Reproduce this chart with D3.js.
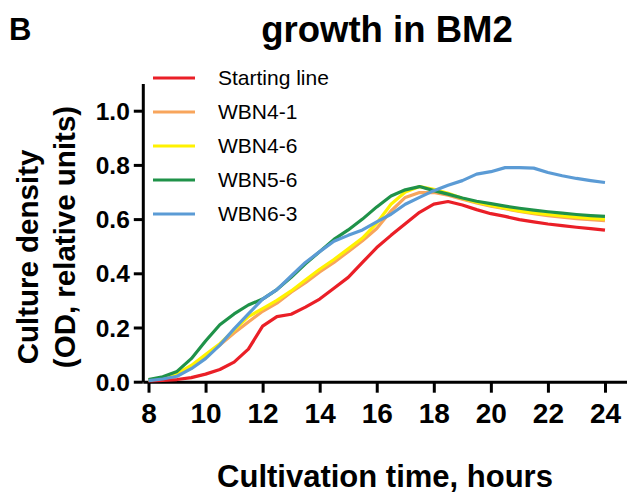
<!DOCTYPE html>
<html><head><meta charset="utf-8">
<script src="https://cdn.jsdelivr.net/npm/d3@7"></script>
<style>body{margin:0;background:#fff}svg{display:block}text{font-family:Arial,"Liberation Sans",sans-serif}</style>
</head><body><svg id="c" width="627" height="498"></svg>
<script>
const hours = [8,8.5,9,9.5,10,10.5,11,11.5,12,12.5,13,13.5,14,14.5,15,15.5,16,16.5,17,17.5,18,18.5,19,19.5,20,20.5,21,21.5,22,22.5,23,23.5,24];
const seriesNames = ["Starting line","WBN4-1","WBN4-6","WBN5-6","WBN6-3"];
const startingLine = [0.003,0.005,0.008,0.015,0.028,0.045,0.072,0.12,0.205,0.24,0.249,0.275,0.305,0.345,0.385,0.44,0.495,0.54,0.583,0.625,0.655,0.665,0.652,0.635,0.62,0.61,0.598,0.59,0.582,0.576,0.57,0.565,0.559];
const wbn41 = [0.006,0.013,0.027,0.055,0.095,0.135,0.18,0.22,0.26,0.29,0.33,0.365,0.405,0.44,0.48,0.52,0.565,0.63,0.68,0.698,0.698,0.688,0.673,0.66,0.648,0.638,0.628,0.62,0.613,0.607,0.602,0.598,0.594];
const wbn46 = [0.006,0.014,0.03,0.06,0.10,0.14,0.19,0.24,0.27,0.30,0.335,0.375,0.415,0.451,0.49,0.53,0.585,0.655,0.70,0.72,0.71,0.695,0.677,0.662,0.65,0.64,0.63,0.623,0.617,0.612,0.607,0.603,0.60];
const wbn56 = [0.008,0.018,0.038,0.085,0.15,0.21,0.25,0.283,0.305,0.34,0.385,0.435,0.48,0.525,0.56,0.60,0.645,0.685,0.708,0.72,0.705,0.692,0.678,0.666,0.657,0.648,0.64,0.633,0.627,0.622,0.617,0.613,0.61];
const wbn63 = [0.004,0.01,0.02,0.048,0.085,0.135,0.195,0.25,0.305,0.34,0.39,0.44,0.48,0.518,0.54,0.56,0.59,0.618,0.655,0.68,0.705,0.725,0.742,0.766,0.775,0.79,0.79,0.788,0.772,0.76,0.75,0.742,0.735];
const seriesColors = ["#ea1f27","#f8a55c","#fff200","#1f9249","#5b9bd5"];
const xTicks = [8,10,12,14,16,18,20,22,24];
const yTicks = [0,0.2,0.4,0.6,0.8,1.0];

const allSeries = [startingLine,wbn41,wbn46,wbn56,wbn63];
const svg = d3.select("#c");
const x = d3.scaleLinear().domain([7.8,24.8]).range([142.8,627.8]);
const y = d3.scaleLinear().domain([0,1.1]).range([381.7,83.6]);

// axes
const xa = svg.append("g").attr("transform","translate(0,381.7)")
  .call(d3.axisBottom(x).tickValues(xTicks).tickSize(11).tickSizeOuter(0).tickPadding(10).tickFormat(d3.format("d")));
const ya = svg.append("g").attr("transform","translate(142.8,0)")
  .call(d3.axisLeft(y).tickValues(yTicks).tickSize(9).tickSizeOuter(0).tickPadding(4).tickFormat(d3.format(".1f")));
[xa,ya].forEach(a=>{
  a.select(".domain").attr("stroke","#000").attr("stroke-width",3);
  a.selectAll(".tick line").attr("stroke","#000").attr("stroke-width",3);
  a.selectAll(".tick text").attr("fill","#000").attr("font-weight","bold")
   .attr("font-family","Arial, 'Liberation Sans', sans-serif");
});
xa.selectAll(".tick text").attr("font-size",28);
ya.selectAll(".tick text").attr("font-size",24.5).attr("dy","0.35em");

// lines
const line = d3.line().x((d,i)=>x(hours[i])).y(d=>y(d));
allSeries.forEach((s,k)=>{
  svg.append("path").datum(s).attr("d",line).attr("fill","none")
    .attr("stroke",seriesColors[k]).attr("stroke-width",3.2).attr("stroke-linejoin","round");
});

// legend
const lg = svg.append("g");
seriesNames.forEach((n,k)=>{
  const yy = 78 + k*34;
  lg.append("line").attr("x1",153).attr("x2",195).attr("y1",yy).attr("y2",yy)
    .attr("stroke",seriesColors[k]).attr("stroke-width",3.2);
  lg.append("text").attr("x",218).attr("y",yy).attr("dy","0.35em")
    .attr("font-size",21).text(n);
});

// titles
svg.append("text").attr("x",9).attr("y",40).attr("font-size",31).attr("font-weight","bold").text("B");
svg.append("text").attr("x",387).attr("y",42).attr("text-anchor","middle").attr("font-size",36.5).attr("font-weight","bold").text("growth in BM2");
svg.append("text").attr("x",385).attr("y",487).attr("text-anchor","middle").attr("font-size",31).attr("font-weight","bold").text("Cultivation time, hours");
svg.append("text").attr("transform","translate(38,257) rotate(-90)").attr("text-anchor","middle").attr("font-size",29.5).attr("font-weight","bold").text("Culture density");
svg.append("text").attr("transform","translate(75,237) rotate(-90)").attr("text-anchor","middle").attr("font-size",29.5).attr("font-weight","bold").text("(OD, relative units)");
</script></body></html>
